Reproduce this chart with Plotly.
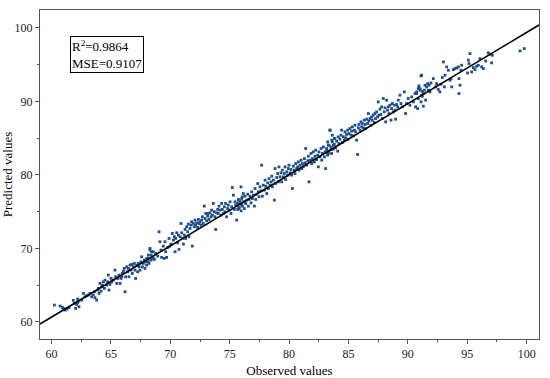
import plotly.graph_objects as go

observed = [
60.24,60.72,60.91,61.0,61.14,61.28,61.47,61.84,61.92,62.03,62.12,62.20,62.26,62.31,62.20,62.54,62.68,62.82,62.96,63.10,
63.24,63.38,63.52,63.61,63.66,63.80,63.89,63.94,64.0,64.08,64.17,64.22,64.28,64.36,64.45,64.50,64.64,64.73,64.78,64.84,
64.92,65.01,65.06,65.20,65.34,65.40,65.49,65.57,65.68,65.77,65.85,65.91,65.96,66.05,66.13,66.19,66.24,66.33,66.41,66.47,
66.52,66.61,66.69,66.75,66.80,66.89,66.97,67.03,67.08,67.17,67.25,67.31,67.37,67.45,67.53,67.59,67.65,67.73,67.81,67.87,
67.93,68.01,68.10,68.15,68.21,68.29,68.38,68.43,68.49,68.57,
68.01,68.15,68.29,68.38,68.49,68.57,68.66,68.77,68.94,69.05,69.13,69.22,69.27,69.41,69.50,69.55,69.61,69.69,69.78,69.89,
69.97,70.06,70.17,70.26,70.34,70.40,70.45,70.54,70.62,70.68,70.73,70.82,70.90,70.96,71.01,71.10,71.18,71.24,71.29,71.38,
71.46,71.52,71.57,71.66,71.74,71.80,71.85,71.94,72.02,72.08,72.13,72.22,72.30,72.36,72.42,72.50,72.58,72.64,72.70,72.78,
72.86,72.92,72.98,73.06,73.14,73.20,73.26,73.34,73.43,73.48,73.54,73.62,73.71,73.76,73.82,73.90,73.99,74.04,74.10,74.18,
74.27,74.32,74.38,74.46,74.55,74.60,74.66,74.74,74.83,74.88,74.94,75.03,75.11,75.17,75.22,75.31,75.39,75.45,75.50,75.59,
75.67,75.73,75.78,75.87,75.95,76.01,76.06,76.15,76.23,
75.59,75.67,75.73,75.79,75.87,75.96,76.01,76.07,76.15,76.24,76.29,76.35,76.43,76.52,76.57,76.63,76.71,76.80,76.85,76.91,
77.0,77.08,77.13,77.19,77.27,77.36,77.41,77.47,77.55,77.64,77.69,77.75,77.83,77.92,77.98,78.03,78.12,78.20,78.26,78.31,
78.40,78.48,78.54,78.59,78.68,78.76,78.82,78.87,78.96,79.04,79.10,79.15,79.24,79.32,79.38,79.43,79.52,79.60,79.66,79.71,
79.80,79.88,79.94,79.99,80.08,80.16,80.22,80.28,80.36,80.44,80.50,80.56,80.64,80.72,80.78,80.84,80.92,81.01,81.06,81.12,
81.20,81.29,81.34,81.40,81.48,81.57,81.62,81.68,81.76,81.85,81.90,81.96,82.04,82.13,82.18,82.24,82.32,82.41,82.46,82.52,
82.60,82.69,82.75,82.80,82.89,82.97,83.03,83.08,83.17,83.25,83.31,83.36,83.45,83.53,83.59,83.64,83.73,83.81,
83.10,83.16,83.24,83.30,83.36,83.44,83.53,83.58,83.64,83.72,83.81,83.86,83.92,84.0,84.09,84.14,84.20,84.28,84.37,84.42,
84.48,84.56,84.65,84.70,84.76,84.84,84.93,84.98,85.04,85.12,85.21,85.27,85.32,85.41,85.49,85.55,85.60,85.69,85.77,85.83,
85.88,85.97,86.05,86.11,86.16,86.25,86.33,86.39,86.44,86.53,86.61,86.67,86.72,86.81,86.89,86.95,87.0,87.09,87.17,87.23,
87.28,87.37,87.45,87.51,87.57,87.65,87.73,87.79,87.85,87.93,88.01,88.07,88.13,88.21,88.29,88.35,88.41,88.49,88.58,88.63,
88.69,88.77,88.86,88.91,88.97,89.05,89.14,89.19,89.33,89.42,89.53,89.70,89.81,89.89,90.03,90.17,90.32,90.46,90.60,90.65,
90.74,90.82,90.88,90.93,91.02,91.10,91.16,91.21,91.30,
90.74,90.88,91.02,91.11,91.16,91.22,91.30,91.39,91.44,91.50,91.58,91.67,91.72,91.78,91.86,91.95,92.14,92.34,92.42,92.56,
92.70,92.79,92.90,92.99,93.07,93.13,93.27,93.41,93.55,93.63,93.69,93.83,93.97,94.11,94.25,94.30,94.30,94.39,94.47,94.53,
95.03,95.09,95.15,95.23,95.37,95.51,95.65,95.79,95.93,96.07,96.21,96.35,96.55,96.77,96.91,97.05,97.11,99.44,99.80
]

predicted = [
62.27,62.14,61.95,61.82,61.59,61.73,61.91,62.91,62.50,61.82,62.36,62.63,62.81,62.04,63.09,62.95,63.86,63.40,63.54,63.63,
63.86,63.40,63.63,64.08,63.27,62.95,64.31,64.54,63.86,65.22,64.17,64.76,64.99,65.44,64.54,65.67,64.99,65.44,66.35,64.31,
65.08,65.90,65.44,65.67,67.03,66.12,65.22,65.90,66.35,65.22,65.90,66.12,66.58,66.89,67.26,64.08,66.12,67.48,66.80,67.26,
66.12,67.71,67.03,67.80,66.58,67.48,67.94,67.03,65.90,67.71,66.80,67.94,67.48,67.03,68.16,68.84,67.48,67.94,68.39,67.26,
68.16,67.71,68.62,69.07,67.94,69.98,68.39,69.53,68.84,68.62,
68.62,68.17,69.76,69.08,68.76,69.53,68.49,69.30,68.94,72.25,70.89,69.76,68.76,70.30,68.62,70.89,69.53,68.76,70.12,71.34,
70.30,70.57,72.02,71.12,71.57,69.53,71.34,72.11,70.75,71.80,69.85,71.57,73.38,72.11,71.34,70.57,71.80,72.57,71.34,72.93,
72.25,73.29,71.57,72.70,73.16,73.61,70.30,73.38,72.93,73.84,73.16,73.47,72.84,73.93,73.38,73.61,73.16,73.84,74.29,73.38,
75.74,74.06,74.74,73.75,74.38,74.74,73.93,74.83,74.29,75.20,74.52,76.11,74.97,74.29,72.57,74.83,75.29,74.74,75.74,75.20,
74.52,76.11,75.29,74.74,75.65,74.97,76.11,74.29,75.42,75.88,75.20,76.33,74.74,75.65,78.28,77.24,75.29,76.33,75.88,73.84,
76.11,76.65,75.42,76.47,78.37,75.88,77.01,77.46,76.33,
75.88,75.29,76.56,75.56,76.10,75.10,76.78,75.74,76.33,75.42,77.10,76.10,76.56,77.37,75.74,76.65,77.10,76.19,77.69,76.78,
77.24,75.74,78.14,76.65,77.37,78.82,77.69,77.01,78.37,77.83,81.32,77.10,78.60,77.92,79.28,78.46,77.46,78.91,78.14,79.50,
78.60,79.05,79.82,78.37,79.28,76.56,80.86,78.82,79.64,80.18,79.05,81.09,79.73,80.27,79.05,80.64,79.73,80.18,81.09,79.37,
80.41,79.96,80.86,81.32,80.27,80.73,79.96,78.14,81.18,80.64,80.18,81.54,80.86,81.09,81.77,80.64,81.32,82.0,80.86,81.54,
81.09,82.22,81.64,83.59,81.32,81.91,82.54,79.05,82.0,82.91,81.54,82.22,83.13,81.77,82.54,83.36,82.09,82.68,81.09,83.13,
82.45,83.59,82.0,82.91,83.81,82.45,83.13,80.86,83.36,84.49,82.91,84.04,86.08,83.45,84.72,85.40,84.04,84.95,
83.05,83.59,82.69,84.05,83.23,86.09,83.82,82.91,84.50,83.50,84.14,84.95,83.68,84.59,83.23,85.18,84.27,84.86,85.41,86.09,
84.41,85.18,84.73,85.86,85.04,85.50,86.09,84.86,85.63,86.31,85.41,85.95,86.54,85.32,86.09,86.77,85.86,84.73,82.78,86.40,
86.86,86.09,87.22,86.54,86.99,86.40,87.45,86.86,86.31,87.58,86.99,88.35,87.31,87.67,86.77,87.90,87.45,88.13,87.13,88.35,
87.67,88.58,87.90,89.94,88.13,88.94,88.22,89.26,87.67,90.40,88.58,89.13,87.22,90.17,88.81,89.26,88.35,89.49,87.45,89.03,
89.71,88.58,89.49,88.81,87.58,89.58,89.26,90.17,90.85,89.71,89.26,91.30,88.35,89.71,90.40,89.49,90.62,89.94,91.08,89.26,
91.30,89.03,91.76,92.12,91.53,93.48,90.85,91.39,91.08,
91.07,90.39,91.75,89.94,93.57,90.71,89.35,91.53,92.21,90.17,91.98,92.43,91.53,92.21,91.30,92.52,93.11,91.98,92.43,91.62,
91.30,92.34,93.25,95.38,91.98,93.57,94.70,94.25,92.89,93.11,91.98,94.34,94.47,94.56,94.70,93.11,91.07,92.21,94.25,94.93,
93.88,95.61,95.15,96.51,94.02,94.61,94.34,94.79,94.93,95.83,94.70,94.47,95.51,96.61,96.43,95.25,96.29,96.88,97.19
]

fit_x = [59.03, 101.04]
fit_y = [59.7, 100.4]

r2_value = "0.9864"
mse_value = "0.9107"

x_tick_vals = [60, 65, 70, 75, 80, 85, 90, 95, 100]
y_tick_vals = [60, 70, 80, 90, 100]

serif = "Liberation Serif"

fig = go.Figure()
fig.add_trace(go.Scatter(
    x=observed, y=predicted, mode="markers",
    marker=dict(symbol="square", size=2.8, color="#1f4f8c", line=dict(width=0)),
    showlegend=False, hoverinfo="skip"))
fig.add_trace(go.Scatter(
    x=fit_x, y=fit_y, mode="lines",
    line=dict(color="black", width=1.6),
    showlegend=False, hoverinfo="skip"))

fig.add_annotation(
    xref="paper", yref="paper", x=0.061, y=0.922, xanchor="left", yanchor="top",
    text=f"R<sup>2</sup>={r2_value}<br>MSE={mse_value}", align="left", showarrow=False,
    font=dict(family=serif, size=13, color="black"),
    bordercolor="black", borderwidth=1, borderpad=1, bgcolor="white")

axis_common = dict(
    showgrid=False, zeroline=False, showline=True, linecolor="#555555", linewidth=1,
    mirror=True, ticks="outside", ticklen=4, tickcolor="#555555", tickwidth=1,
    tickfont=dict(family=serif, size=12, color="#222222"), automargin=False,
)

fig.update_xaxes(
    range=[59.03, 101.04], tickmode="array", tickvals=x_tick_vals,
    minor=dict(ticks="outside", ticklen=2, tickcolor="#555555", dtick=2.5, tick0=62.5),
    title=dict(text="Observed values", font=dict(family=serif, size=13, color="black"), standoff=8),
    **axis_common)
fig.update_yaxes(
    range=[57.65, 102.45], tickmode="array", tickvals=y_tick_vals,
    minor=dict(ticks="outside", ticklen=2, tickcolor="#555555", dtick=5, tick0=65),
    title=dict(text="Predicted values", font=dict(family=serif, size=13, color="black"), standoff=6),
    **axis_common)

fig.update_layout(
    width=550, height=378,
    margin=dict(l=40, r=11, t=10, b=39),
    plot_bgcolor="white", paper_bgcolor="white",
)

fig.write_html("out.html", config={"displayModeBar": False},
               post_script="document.body.style.margin='0';document.body.style.overflow='hidden';")
